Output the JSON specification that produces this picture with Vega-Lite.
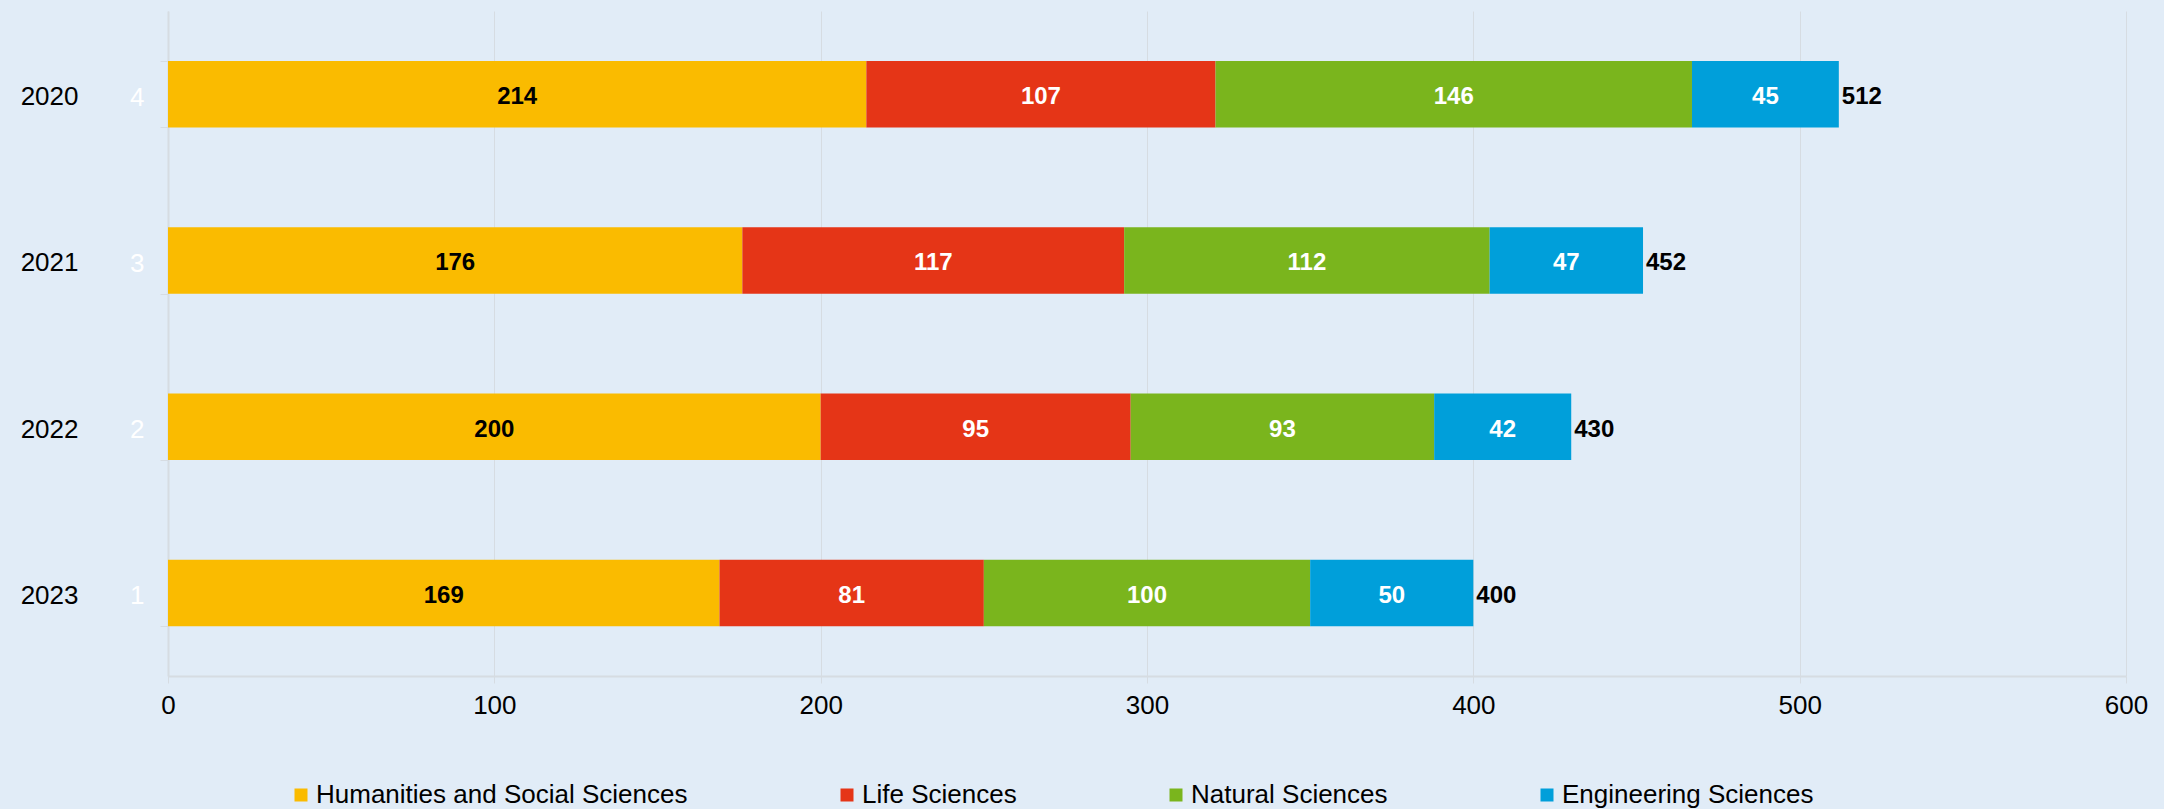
{
  "$schema": "https://vega.github.io/schema/vega-lite/v6.json",
  "width": 1958,
  "height": 665,
  "autosize": {"type": "none"},
  "padding": {"left": 168, "top": 11, "right": 38, "bottom": 133},
  "background": "#E1ECF7",
  "config": {
    "view": {"stroke": null},
    "font": "Liberation Sans"
  },
  "data": {
    "values": [
      {"year": "2020", "category": "Humanities and Social Sciences", "value": 214},
      {"year": "2020", "category": "Life Sciences", "value": 107},
      {"year": "2020", "category": "Natural Sciences", "value": 146},
      {"year": "2020", "category": "Engineering Sciences", "value": 45},
      {"year": "2021", "category": "Humanities and Social Sciences", "value": 176},
      {"year": "2021", "category": "Life Sciences", "value": 117},
      {"year": "2021", "category": "Natural Sciences", "value": 112},
      {"year": "2021", "category": "Engineering Sciences", "value": 47},
      {"year": "2022", "category": "Humanities and Social Sciences", "value": 200},
      {"year": "2022", "category": "Life Sciences", "value": 95},
      {"year": "2022", "category": "Natural Sciences", "value": 93},
      {"year": "2022", "category": "Engineering Sciences", "value": 42},
      {"year": "2023", "category": "Humanities and Social Sciences", "value": 169},
      {"year": "2023", "category": "Life Sciences", "value": 81},
      {"year": "2023", "category": "Natural Sciences", "value": 100},
      {"year": "2023", "category": "Engineering Sciences", "value": 50}
    ]
  },
  "layer": [
    {
      "transform": [
        {"calculate": "indexof(['Humanities and Social Sciences','Life Sciences','Natural Sciences','Engineering Sciences'], datum.category)", "as": "ord"},
        {"stack": "value", "groupby": ["year"], "sort": [{"field": "ord", "order": "ascending"}], "as": ["v0", "v1"]}
      ],
      "mark": {"type": "bar"},
      "encoding": {
        "y": {"field": "year", "type": "nominal", "scale": {"paddingInner": 0.6, "paddingOuter": 0.3},
              "axis": {"orient": "left", "title": null, "labelFontSize": 26, "labelColor": "#000000", "ticks": false, "tickSize": 0, "domain": false, "grid": false, "labelPadding": 90, "labelOffset": 3}},
        "x": {"field": "v0", "type": "quantitative", "scale": {"domain": [0, 600], "nice": false}, "title": null,
              "axis": {"values": [0, 100, 200, 300, 400, 500, 600], "grid": true, "gridColor": "#D6DCE2", "gridWidth": 1, "domainColor": "#D6DCE2", "domainWidth": 2, "tickColor": "#D6DCE2", "tickSize": 7, "labelFontSize": 26, "labelColor": "#000000", "labelPadding": 9, "labelFlush": false, "title": null}},
        "x2": {"field": "v1"},
        "color": {"field": "category", "type": "nominal",
                  "scale": {"domain": ["Humanities and Social Sciences", "Life Sciences", "Natural Sciences", "Engineering Sciences"],
                            "range": ["#FABB00", "#E53517", "#7AB51D", "#009FDA"]},
                  "legend": {"title": null, "orient": "none", "legendX": 120, "legendY": 771, "direction": "horizontal", "columns": 4, "gridAlign": "none", "columnPadding": 146,
                             "symbolType": "square", "symbolSize": 169, "symbolStrokeWidth": 0, "labelFontSize": 26, "labelColor": "#000000", "labelFont": "Liberation Sans", "labelOffset": 2, "labelLimit": 600}}
      }
    },
    {
      "transform": [
        {"calculate": "indexof(['Humanities and Social Sciences','Life Sciences','Natural Sciences','Engineering Sciences'], datum.category)", "as": "ord"},
        {"stack": "value", "groupby": ["year"], "sort": [{"field": "ord", "order": "ascending"}], "as": ["v0", "v1"]},
        {"calculate": "(datum.v0 + datum.v1) / 2", "as": "mid"}
      ],
      "mark": {"type": "text", "fontWeight": "bold", "fontSize": 24, "align": "center", "baseline": "middle", "dy": 3, "font": "Liberation Sans"},
      "encoding": {
        "y": {"field": "year", "type": "nominal", "axis": null},
        "x": {"field": "mid", "type": "quantitative", "title": null},
        "text": {"field": "value", "type": "quantitative"},
        "color": {"condition": {"test": "datum.category === 'Humanities and Social Sciences'", "value": "#000000"}, "value": "#FFFFFF"}
      }
    },
    {
      "mark": {"type": "text", "fontWeight": "bold", "fontSize": 24, "align": "left", "baseline": "middle", "dx": 3, "dy": 3, "color": "#000000", "font": "Liberation Sans"},
      "encoding": {
        "y": {"field": "year", "type": "nominal",
              "axis": {"orient": "left", "title": null, "labelExpr": "{'2020':'4','2021':'3','2022':'2','2023':'1'}[datum.label]", "labelColor": "#FFFFFF", "labelFontSize": 26, "labelOffset": 3, "tickBand": "extent", "tickSize": 8, "tickColor": "#D6DCE2", "domainColor": "#D6DCE2", "domainWidth": 2, "labelPadding": 16, "grid": false}},
        "x": {"aggregate": "sum", "field": "value", "type": "quantitative", "title": null},
        "text": {"aggregate": "sum", "field": "value", "type": "quantitative"}
      }
    }
  ],
  "resolve": {"axis": {"y": "independent"}}
}
